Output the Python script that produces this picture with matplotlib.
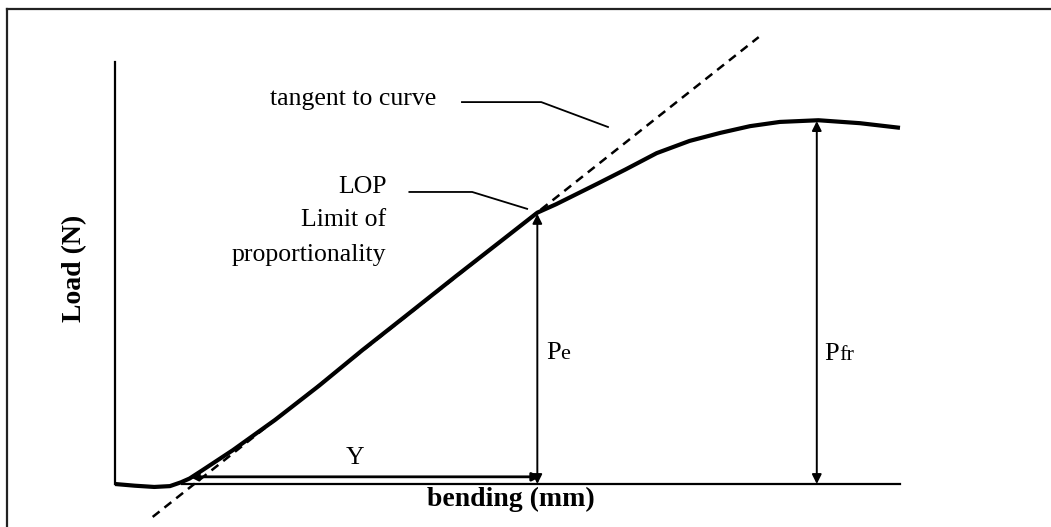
import matplotlib
matplotlib.use("Agg")
import matplotlib.pyplot as plt
from matplotlib.lines import Line2D

plt.rcParams['font.family'] = ['Liberation Serif', 'DejaVu Serif']

# load-bending curve (bending mm, load N, arbitrary scale)
bend = [0.0, 0.25, 0.50, 0.70, 0.84, 0.95, 1.10, 1.50, 2.04, 2.60, 3.15, 3.75, 4.34, 4.94,
        5.38, 5.62, 6.15, 6.50, 6.90, 7.32, 7.71, 8.09, 8.47, 8.96, 9.49, 10.0]
load = [0.0, -0.04, -0.07, -0.05, 0.04, 0.13, 0.31, 0.80, 1.52, 2.33, 3.17, 4.05, 4.92, 5.79,
        6.43, 6.63, 7.12, 7.45, 7.84, 8.13, 8.32, 8.48, 8.58, 8.62, 8.55, 8.44]

# tangent line end points
tan_x = [0.48, 8.20]
tan_y = [-0.78, 10.59]

# characteristic points
lop_x, lop_y = 5.38, 6.40      # limit of proportionality
pfr_x, pfr_y = 8.94, 8.60      # maximum load
y_start = 0.95                 # where the tangent meets the baseline

fig = plt.figure(figsize=(10.51, 5.27), dpi=100)
ax = fig.add_axes([115 / 1051, 43 / 527, 785 / 1051, 422 / 527])
ax.set_xlim(0, 10)
ax.set_ylim(0, 10)
ax.axis('off')

# outer frame
fig.add_artist(Line2D([7 / 1051, 7 / 1051], [0, 1 - 9 / 527], color='#222222', lw=1.6))
fig.add_artist(Line2D([7 / 1051, 1], [1 - 9 / 527, 1 - 9 / 527], color='#222222', lw=1.6))

# axes lines
ax.plot([0, 0], [0, 10], color='black', lw=1.6, clip_on=False)
ax.plot([y_start - 0.1, 10], [0, 0], color='black', lw=1.6, clip_on=False)

# curve and tangent
ax.plot(bend, load, color='black', lw=3.0, solid_joinstyle='round', solid_capstyle='butt',
        clip_on=False, zorder=4)
ax.plot(tan_x, tan_y, color='black', lw=1.8, ls=(0, (3.5, 2.5)), clip_on=False, zorder=3)

# dimension arrows
arrow = dict(arrowstyle='<|-|>', color='black', lw=1.4, mutation_scale=14, shrinkA=0, shrinkB=0)
ax.annotate('', xy=(lop_x, 0), xytext=(lop_x, lop_y), arrowprops=arrow)
ax.annotate('', xy=(pfr_x, 0), xytext=(pfr_x, pfr_y), arrowprops=arrow)
ax.annotate('', xy=(y_start, 0.17), xytext=(lop_x + 0.04, 0.17),
            arrowprops=dict(arrowstyle='<|-|>', color='black', lw=2.0, mutation_scale=12,
                            shrinkA=0, shrinkB=0))

# leader lines
ax.plot([4.42, 5.43, 6.28], [9.05, 9.05, 8.46], color='black', lw=1.3, clip_on=False)
ax.plot([3.75, 4.55, 5.25], [6.92, 6.92, 6.52], color='black', lw=1.3, clip_on=False)

# texts
ax.text(1.97, 9.12, 'tangent to curve', fontsize=18.5, ha='left', va='center')
for txt, yy in zip(['LOP', 'Limit of', 'proportionality'], [7.04, 6.26, 5.43]):
    ax.text(3.46, yy, txt, fontsize=18.5, ha='right', va='center')
ax.text(3.06, 0.62, 'Y', fontsize=18.5, ha='center', va='center')

ax.text(5.49, 2.96, 'P', fontsize=19, ha='left', va='baseline')
ax.text(5.67, 2.96, 'e', fontsize=16, ha='left', va='baseline')
ax.text(9.04, 2.94, 'P', fontsize=19, ha='left', va='baseline')
ax.text(9.22, 2.94, 'fr', fontsize=16, ha='left', va='baseline')

fig.text(511 / 1051, 1 - 499 / 527, 'bending (mm)', fontsize=20, fontweight='bold',
         ha='center', va='center')
fig.text(75 / 1051, 1 - 268 / 527, 'Load (N)', fontsize=20, fontweight='bold',
         ha='center', va='center', rotation=90)

fig.savefig('out.png', dpi=100)
